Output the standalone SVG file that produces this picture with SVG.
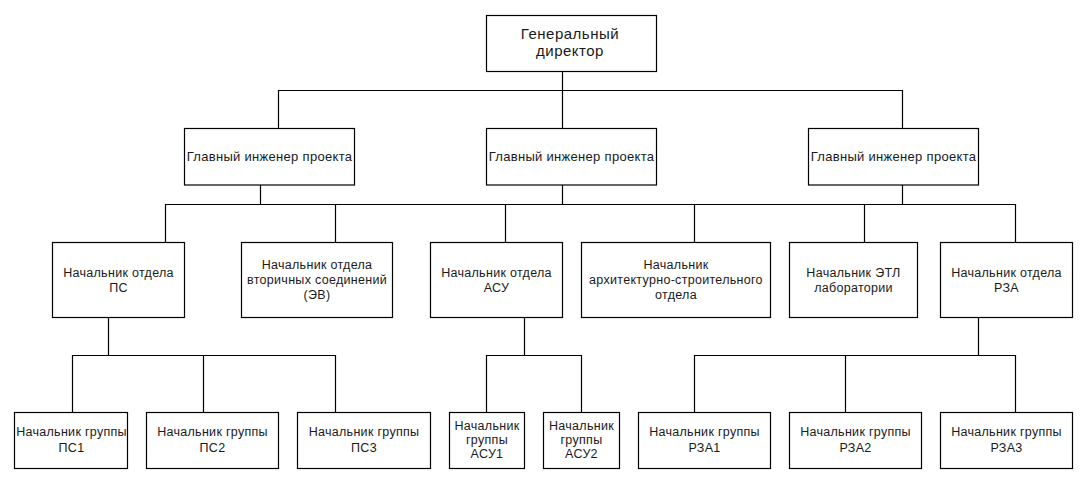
<svg xmlns="http://www.w3.org/2000/svg" width="1089" height="484" viewBox="0 0 1089 484">
<style>
.b{fill:#fff;stroke:#000;stroke-width:1.2}
.c{fill:none;stroke:#000;stroke-width:1.2}
text{font-family:"Liberation Sans",Arial,sans-serif;font-size:12.5px;letter-spacing:0.3px;fill:#1a1a1a;text-anchor:middle}
.t14{font-size:15px;letter-spacing:0.5px}
.t13{font-size:13px}
</style>
<rect width="1089" height="484" fill="#fff"/>
<g id="connectors" class="c">
<path d="M562.5 71V128.5M278.5 128.5V90.5H902.5V128.5"/>
<path d="M260.5 185V204.5M562.5 185V204.5M902.5 185V204.5"/>
<path d="M165.5 242.5V204.5H1015.5V242.5M335.5 204.5V242.5M505.5 204.5V242.5M694.5 204.5V242.5M864.5 204.5V242.5"/>
<path d="M108.5 317.5V355.5M72.5 412.5V355.5H335.5V412.5M203.5 355.5V412.5"/>
<path d="M524.5 317.5V355.5M486.5 412.5V355.5H581.5V412.5"/>
<path d="M978.5 317.5V355.5M694.5 412.5V355.5H1015.5V412.5M845.5 355.5V412.5"/>
</g>
<g id="gd"><rect class="b" x="486.5" y="15.5" width="170" height="56"/><text class="t14" x="570" y="38.5">Генеральный</text><text class="t14" x="570" y="56">директор</text></g>
<g id="gip1"><rect class="b" x="184.5" y="128.5" width="170" height="56.5"/><text class="t13" x="269.5" y="161">Главный инженер проекта</text></g>
<g id="gip2"><rect class="b" x="486.5" y="128.5" width="170" height="56.5"/><text class="t13" x="571.5" y="161">Главный инженер проекта</text></g>
<g id="gip3"><rect class="b" x="808.5" y="128.5" width="170" height="56.5"/><text class="t13" x="893.5" y="161">Главный инженер проекта</text></g>
<g id="ps"><rect class="b" x="52.5" y="242.5" width="132" height="75"/><text x="118.5" y="276.5">Начальник отдела</text><text x="118.5" y="292">ПС</text></g>
<g id="ev"><rect class="b" x="241.5" y="242.5" width="151" height="75"/><text x="317" y="268.5">Начальник отдела</text><text x="317" y="284">вторичных соединений</text><text x="317" y="299">(ЭВ)</text></g>
<g id="asu"><rect class="b" x="430.5" y="242.5" width="132" height="75"/><text x="496.5" y="276.5">Начальник отдела</text><text x="496.5" y="292">АСУ</text></g>
<g id="arch"><rect class="b" x="581.5" y="242.5" width="189" height="75"/><text x="676" y="268.5">Начальник</text><text x="676" y="284">архитектурно-строительного</text><text x="676" y="298.5">отдела</text></g>
<g id="etl"><rect class="b" x="789.5" y="242.5" width="128" height="75"/><text x="853.5" y="276.5">Начальник ЭТЛ</text><text x="853.5" y="292">лаборатории</text></g>
<g id="rza"><rect class="b" x="940.5" y="242.5" width="132" height="75"/><text x="1006.5" y="276.5">Начальник отдела</text><text x="1006.5" y="292">РЗА</text></g>
<g id="ps1"><rect class="b" x="14.5" y="412.5" width="113" height="56"/><text x="71.5" y="436">Начальник группы</text><text x="71.5" y="451.5">ПС1</text></g>
<g id="ps2"><rect class="b" x="146.5" y="412.5" width="132" height="56"/><text x="212.5" y="436">Начальник группы</text><text x="212.5" y="451.5">ПС2</text></g>
<g id="ps3"><rect class="b" x="297.5" y="412.5" width="133" height="56"/><text x="364" y="436">Начальник группы</text><text x="364" y="451.5">ПС3</text></g>
<g id="asu1"><rect class="b" x="449.5" y="412.5" width="75" height="56"/><text x="487" y="429.5">Начальник</text><text x="487" y="443.5">группы</text><text x="487" y="458">АСУ1</text></g>
<g id="asu2"><rect class="b" x="543.5" y="412.5" width="76" height="56"/><text x="581.5" y="429.5">Начальник</text><text x="581.5" y="443.5">группы</text><text x="581.5" y="458">АСУ2</text></g>
<g id="rza1"><rect class="b" x="638.5" y="412.5" width="132" height="56"/><text x="704.5" y="436">Начальник группы</text><text x="704.5" y="451.5">РЗА1</text></g>
<g id="rza2"><rect class="b" x="789.5" y="412.5" width="132" height="56"/><text x="855.5" y="436">Начальник группы</text><text x="855.5" y="451.5">РЗА2</text></g>
<g id="rza3"><rect class="b" x="940.5" y="412.5" width="132" height="56"/><text x="1006.5" y="436">Начальник группы</text><text x="1006.5" y="451.5">РЗА3</text></g>
</svg>
